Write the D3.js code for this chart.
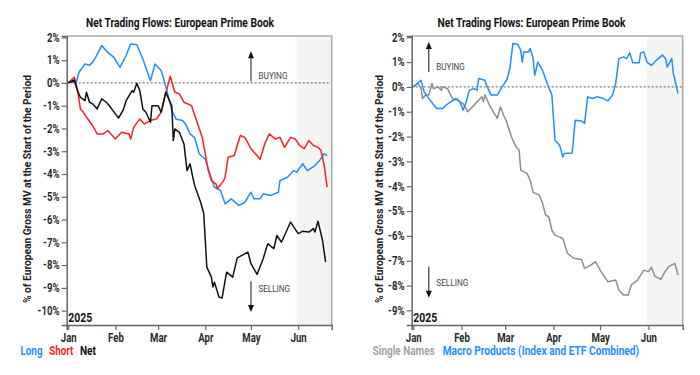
<!DOCTYPE html>
<html>
<head>
<meta charset="utf-8">
<script src="https://cdn.jsdelivr.net/npm/d3@7"></script>
<style>
body { margin: 0; background: #fff; }
text { font-family: Roboto, "Noto Sans", sans-serif; }
</style>
</head>
<body>
<svg id="chart" width="700" height="375"></svg>
<script>
// ---- data (percent of European gross MV at start of period) ----
var monthTicks = ["2025-01-01", "2025-02-01", "2025-03-01", "2025-04-01", "2025-05-01", "2025-06-01"];
var shadeStart = "2025-05-31";

var leftTicks = [2, 1, 0, -1, -2, -3, -4, -5, -6, -7, -8, -9, -10];
var rightTicks = [2, 1, 0, -1, -2, -3, -4, -5, -6, -7, -8, -9];

var longFlows = [
  ["2025-01-01", 0], ["2025-01-04", 0.05], ["2025-01-06", -0.05], ["2025-01-08", 0.46], ["2025-01-12", 0.83],
  ["2025-01-15", 0.78], ["2025-01-17", 0.9], ["2025-01-19", 1.12], ["2025-01-23", 1.64], ["2025-01-27", 1.34],
  ["2025-01-31", 1.12], ["2025-02-04", 0.68], ["2025-02-08", 1.2], ["2025-02-11", 1.71], ["2025-02-15", 1.68],
  ["2025-02-19", 1.05], ["2025-02-24", 0.1], ["2025-02-27", 0.83], ["2025-03-03", 0.54], ["2025-03-05", 0.1],
  ["2025-03-07", -0.41], ["2025-03-10", -1.21], ["2025-03-13", -1.6], ["2025-03-17", -1.65], ["2025-03-19", -1.8],
  ["2025-03-22", -2.24], ["2025-03-25", -2.4], ["2025-03-28", -3.11], ["2025-04-01", -3.35], ["2025-04-04", -3.99],
  ["2025-04-07", -4.58], ["2025-04-11", -4.72], ["2025-04-14", -5.31], ["2025-04-18", -5.09], ["2025-04-23", -5.38],
  ["2025-04-27", -5.24], ["2025-05-01", -4.8], ["2025-05-03", -5.09], ["2025-05-07", -5.09], ["2025-05-09", -4.87],
  ["2025-05-14", -4.94], ["2025-05-19", -4.8], ["2025-05-20", -4.29], ["2025-05-25", -4.14], ["2025-05-29", -3.85],
  ["2025-05-31", -3.92], ["2025-06-04", -3.55], ["2025-06-07", -3.85], ["2025-06-12", -3.63], ["2025-06-15", -3.41],
  ["2025-06-18", -3.11], ["2025-06-20", -3.19]
];

var shortFlows = [
  ["2025-01-01", 0], ["2025-01-05", 0.25], ["2025-01-07", -0.26], ["2025-01-09", -1.14], ["2025-01-11", -1.29],
  ["2025-01-13", -1.51], ["2025-01-17", -1.87], ["2025-01-20", -2.24], ["2025-01-24", -2.24], ["2025-01-27", -2.09],
  ["2025-02-01", -2.46], ["2025-02-05", -2.17], ["2025-02-10", -2.24], ["2025-02-11", -2.46], ["2025-02-13", -1.95],
  ["2025-02-17", -1.58], ["2025-02-20", -1.8], ["2025-02-24", -1.65], ["2025-02-28", -1.58], ["2025-03-03", -1.29],
  ["2025-03-06", -0.48], ["2025-03-09", 0.29], ["2025-03-12", -0.41], ["2025-03-15", -0.48], ["2025-03-18", -0.85],
  ["2025-03-23", -1.0], ["2025-03-24", -1.21], ["2025-03-27", -1.8], ["2025-03-30", -2.39], ["2025-04-03", -3.85],
  ["2025-04-05", -4.29], ["2025-04-08", -4.43], ["2025-04-09", -4.65], ["2025-04-13", -4.29], ["2025-04-14", -4.14],
  ["2025-04-16", -3.26], ["2025-04-20", -3.19], ["2025-04-24", -2.31], ["2025-04-27", -2.39], ["2025-05-01", -2.89],
  ["2025-05-07", -3.35], ["2025-05-10", -2.68], ["2025-05-13", -2.24], ["2025-05-17", -2.46], ["2025-05-20", -2.39],
  ["2025-05-23", -2.83], ["2025-05-27", -2.39], ["2025-05-30", -2.46], ["2025-06-02", -2.75], ["2025-06-05", -2.89],
  ["2025-06-08", -2.53], ["2025-06-11", -2.75], ["2025-06-14", -2.83], ["2025-06-16", -2.97], ["2025-06-18", -3.6],
  ["2025-06-20", -4.58]
];

var netFlows = [
  ["2025-01-01", 0], ["2025-01-05", 0.13], ["2025-01-07", -0.34], ["2025-01-09", -0.63], ["2025-01-12", -0.78],
  ["2025-01-13", -0.41], ["2025-01-15", -0.85], ["2025-01-17", -0.92], ["2025-01-20", -1.14], ["2025-01-23", -0.7],
  ["2025-01-26", -0.85], ["2025-01-28", -1.0], ["2025-02-01", -1.36], ["2025-02-03", -1.54], ["2025-02-06", -1.21],
  ["2025-02-08", -0.78], ["2025-02-12", -0.34], ["2025-02-13", -0.41], ["2025-02-15", -0.02], ["2025-02-17", -0.34],
  ["2025-02-19", -1.14], ["2025-02-21", -1.29], ["2025-02-24", -1.73], ["2025-02-25", -1.0], ["2025-03-01", -1.0],
  ["2025-03-03", -1.29], ["2025-03-06", -0.41], ["2025-03-08", -0.7], ["2025-03-10", -1.0], ["2025-03-11", -2.53],
  ["2025-03-12", -2.02], ["2025-03-15", -2.17], ["2025-03-18", -2.68], ["2025-03-20", -3.85], ["2025-03-22", -3.55],
  ["2025-03-24", -4.21], ["2025-03-25", -4.5], ["2025-03-29", -5.25], ["2025-03-31", -5.75], ["2025-04-02", -8.09],
  ["2025-04-05", -8.53], ["2025-04-06", -8.96], ["2025-04-07", -8.75], ["2025-04-10", -9.4], ["2025-04-12", -9.45],
  ["2025-04-15", -8.31], ["2025-04-19", -8.53], ["2025-04-22", -7.68], ["2025-04-25", -7.57], ["2025-04-29", -7.43],
  ["2025-05-01", -7.94], ["2025-05-05", -8.41], ["2025-05-09", -7.72], ["2025-05-12", -7.06], ["2025-05-16", -7.28],
  ["2025-05-18", -6.7], ["2025-05-21", -6.99], ["2025-05-23", -6.7], ["2025-05-27", -6.11], ["2025-06-01", -6.62],
  ["2025-06-04", -6.51], ["2025-06-08", -6.55], ["2025-06-11", -6.4], ["2025-06-12", -6.55], ["2025-06-14", -6.07],
  ["2025-06-17", -6.92], ["2025-06-19", -7.87]
];

var singleNames = [
  ["2025-01-01", 0], ["2025-01-04", 0.14], ["2025-01-06", -0.07], ["2025-01-07", -0.47], ["2025-01-09", -0.33],
  ["2025-01-11", -0.33], ["2025-01-13", 0.14], ["2025-01-14", -0.07], ["2025-01-17", 0], ["2025-01-19", -0.13],
  ["2025-01-20", 0], ["2025-01-23", -0.07], ["2025-01-25", -0.33], ["2025-01-27", -0.54], ["2025-01-29", -0.47],
  ["2025-01-31", -0.6], ["2025-02-02", -0.67], ["2025-02-05", -1.0], ["2025-02-09", -0.74], ["2025-02-11", -0.6],
  ["2025-02-14", -0.4], ["2025-02-15", -0.6], ["2025-02-16", -0.33], ["2025-02-19", -0.74], ["2025-02-22", -1.07],
  ["2025-02-24", -1.27], ["2025-02-26", -0.8], ["2025-02-28", -1.14], ["2025-03-02", -1.41], ["2025-03-05", -2.01],
  ["2025-03-08", -2.41], ["2025-03-10", -2.55], ["2025-03-11", -3.35], ["2025-03-15", -3.48], ["2025-03-17", -3.75],
  ["2025-03-19", -4.25], ["2025-03-23", -4.36], ["2025-03-25", -4.69], ["2025-03-27", -5.16], ["2025-03-29", -5.23],
  ["2025-03-31", -5.77], ["2025-04-02", -5.97], ["2025-04-07", -6.1], ["2025-04-10", -6.7], ["2025-04-14", -6.9],
  ["2025-04-19", -6.95], ["2025-04-21", -7.31], ["2025-04-25", -7.18], ["2025-04-28", -7.04], ["2025-05-01", -7.38],
  ["2025-05-06", -7.85], ["2025-05-11", -7.78], ["2025-05-13", -8.18], ["2025-05-16", -8.38], ["2025-05-19", -8.38],
  ["2025-05-21", -7.98], ["2025-05-25", -7.78], ["2025-05-29", -7.38], ["2025-06-01", -7.44], ["2025-06-03", -7.27],
  ["2025-06-05", -7.62], ["2025-06-09", -7.75], ["2025-06-11", -7.51], ["2025-06-14", -7.24], ["2025-06-18", -7.11],
  ["2025-06-20", -7.58]
];

var macroProducts = [
  ["2025-01-01", 0], ["2025-01-06", 0.27], ["2025-01-08", -0.2], ["2025-01-11", -0.47], ["2025-01-16", -0.87],
  ["2025-01-20", -0.87], ["2025-01-22", -0.74], ["2025-01-25", -0.6], ["2025-01-28", -0.47], ["2025-01-31", -0.6],
  ["2025-02-02", -0.94], ["2025-02-04", -0.6], ["2025-02-06", -0.13], ["2025-02-09", -0.07], ["2025-02-11", -0.13],
  ["2025-02-12", 0.34], ["2025-02-16", 0.27], ["2025-02-17", 0.07], ["2025-02-20", -0.33], ["2025-02-24", -0.33],
  ["2025-02-27", 0], ["2025-03-02", 0.27], ["2025-03-04", 0.74], ["2025-03-06", 1.75], ["2025-03-09", 1.72],
  ["2025-03-11", 1.48], ["2025-03-12", 1.0], ["2025-03-13", 1.41], ["2025-03-16", 1.41], ["2025-03-17", 1.55],
  ["2025-03-19", 1.14], ["2025-03-20", 0.47], ["2025-03-22", 1.0], ["2025-03-25", 0.67], ["2025-03-28", 0.14],
  ["2025-03-31", -0.33], ["2025-04-02", -2.14], ["2025-04-05", -2.35], ["2025-04-07", -2.82], ["2025-04-08", -2.68],
  ["2025-04-13", -2.66], ["2025-04-15", -1.34], ["2025-04-19", -1.37], ["2025-04-21", -1.47], ["2025-04-23", -0.4],
  ["2025-04-26", -0.47], ["2025-04-29", -0.4], ["2025-05-03", -0.47], ["2025-05-06", -0.56], ["2025-05-09", -0.33],
  ["2025-05-11", 0.14], ["2025-05-13", 1.14], ["2025-05-16", 1.21], ["2025-05-18", 1.14], ["2025-05-20", 1.37],
  ["2025-05-22", 0.97], ["2025-05-26", 0.97], ["2025-05-27", 1.37], ["2025-05-29", 1.41], ["2025-05-31", 1.0],
  ["2025-06-03", 0.87], ["2025-06-06", 1.07], ["2025-06-10", 1.28], ["2025-06-12", 1.14], ["2025-06-13", 0.8],
  ["2025-06-16", 1.14], ["2025-06-17", 0.54], ["2025-06-18", 0.27], ["2025-06-20", -0.27]
];

var parse = d3.timeParse("%Y-%m-%d");
var svg = d3.select("#chart");
var plotTop = 36, plotBottom = 325;
var BLUE = "#1f8fff", RED = "#ff1f1f", BLACK = "#111", GREY = "#8c8c8c";

function panel(opt) {
  var x = d3.scaleTime()
    .domain([parse("2024-12-31"), parse("2025-06-23")])
    .range([opt.x0, opt.x1]);
  var y = d3.scaleLinear().domain(opt.yDomain).range([plotBottom, plotTop]);
  var g = svg.append("g");

  // shaded recent period
  var sx = x(parse(shadeStart));
  g.append("rect")
    .attr("x", sx).attr("y", plotTop)
    .attr("width", opt.x1 - sx).attr("height", plotBottom - plotTop)
    .attr("fill", "#f3f5f2");

  // zero line
  g.append("line")
    .attr("x1", opt.x0).attr("x2", opt.x1)
    .attr("y1", y(0)).attr("y2", y(0))
    .attr("stroke", "#777").attr("stroke-width", 1.2)
    .attr("stroke-dasharray", "2,2");

  // frame
  g.append("path")
    .attr("d", "M" + opt.x0 + "," + plotTop + "H" + opt.x1 + "V" + plotBottom)
    .attr("fill", "none").attr("stroke", "#aaa").attr("stroke-width", 1.5);

  var yAxis = g.append("g")
    .attr("transform", "translate(" + opt.x0 + ",0)")
    .call(d3.axisLeft(y).tickValues(opt.yTicks).tickFormat(function(d) { return d + "%"; })
      .tickSize(5).tickPadding(4));
  var xAxis = g.append("g")
    .attr("transform", "translate(0," + plotBottom + ")")
    .call(d3.axisBottom(x).tickValues(monthTicks.map(parse)).tickFormat(d3.timeFormat("%b"))
      .tickSize(5).tickPadding(3));

  [yAxis, xAxis].forEach(function(a) {
    a.select(".domain").attr("stroke", "#666").attr("stroke-width", 1.5);
    a.selectAll(".tick line").attr("stroke", "#666").attr("stroke-width", 1.2);
    a.selectAll(".tick text")
      .attr("fill", "#2a2a2a")
      .attr("font-size", 12)
      .attr("font-weight", "bold")
      .attr("transform", "scale(0.8,1)");
  });

  // series
  var line = d3.line()
    .x(function(d) { return x(parse(d[0])); })
    .y(function(d) { return y(d[1]); });
  opt.series.forEach(function(s) {
    g.append("path")
      .datum(s.data)
      .attr("d", line)
      .attr("fill", "none")
      .attr("stroke", s.color)
      .attr("stroke-width", 1.5)
      .attr("stroke-linejoin", "round");
  });

  // buying / selling arrows
  opt.arrows.forEach(function(a) {
    var ax = x(parse(a.date));
    var y1 = y(a.from), y2 = y(a.to);
    var dir = y2 < y1 ? 1 : -1;
    g.append("line")
      .attr("x1", ax).attr("x2", ax)
      .attr("y1", y1).attr("y2", y2 + dir * 5)
      .attr("stroke", "#111").attr("stroke-width", 1);
    g.append("path")
      .attr("d", "M" + (ax - 3) + "," + (y2 + dir * 7) + "L" + ax + "," + y2 + "L" + (ax + 3) + "," + (y2 + dir * 7) + "Z")
      .attr("fill", "#111");
    g.append("text")
      .attr("x", ax + 7.5).attr("y", y(a.labelAt))
      .attr("font-size", 8.5).attr("fill", "#444")
      .attr("textLength", a.len).attr("lengthAdjust", "spacingAndGlyphs")
      .text(a.label);
  });

  g.append("text")
    .attr("x", opt.x0 + 1.5).attr("y", plotBottom - 3.5)
    .attr("font-size", 12).attr("font-weight", "bold").attr("fill", "#111")
    .attr("textLength", 24).attr("lengthAdjust", "spacingAndGlyphs")
    .text("2025");

  g.append("text")
    .attr("x", opt.titleX).attr("y", 27)
    .attr("text-anchor", "middle")
    .attr("font-size", 12).attr("font-weight", "bold").attr("fill", "#111")
    .attr("textLength", 188).attr("lengthAdjust", "spacingAndGlyphs")
    .text("Net Trading Flows: European Prime Book");

  g.append("text")
    .attr("transform", "translate(" + opt.labelX + ",189) rotate(-90)")
    .attr("text-anchor", "middle")
    .attr("font-size", 11.5).attr("font-weight", "bold").attr("fill", "#222")
    .attr("textLength", 228).attr("lengthAdjust", "spacingAndGlyphs")
    .text("% of European Gross MV at the Start of the Period");

  opt.legend.forEach(function(l) {
    g.append("text")
      .attr("x", l.x).attr("y", 355)
      .attr("font-size", 12).attr("font-weight", "bold").attr("fill", l.color)
      .attr("textLength", l.len).attr("lengthAdjust", "spacingAndGlyphs")
      .text(l.text);
  });
}

panel({
  x0: 66.7, x1: 331.7, yDomain: [-10.63, 2.06], yTicks: leftTicks,
  titleX: 180, labelX: 31,
  series: [
    { data: longFlows, color: BLUE },
    { data: shortFlows, color: RED },
    { data: netFlows, color: BLACK }
  ],
  arrows: [
    { date: "2025-05-01", from: 0.07, to: 1.39, label: "BUYING", labelAt: 0.15, len: 29 },
    { date: "2025-05-01", from: -8.71, to: -10.06, label: "SELLING", labelAt: -9.18, len: 31.5 }
  ],
  legend: [
    { text: "Long", x: 20.5, color: BLUE, len: 22 },
    { text: "Short", x: 49.3, color: RED, len: 24 },
    { text: "Net", x: 80, color: BLACK, len: 16 }
  ]
});

panel({
  x0: 411.7, x1: 682.7, yDomain: [-9.59, 2.05], yTicks: rightTicks,
  titleX: 531.5, labelX: 383,
  series: [
    { data: singleNames, color: GREY },
    { data: macroProducts, color: BLUE }
  ],
  arrows: [
    { date: "2025-01-11", from: 0.6, to: 1.81, label: "BUYING", labelAt: 0.67, len: 28.5 },
    { date: "2025-01-11", from: -7.24, to: -8.49, label: "SELLING", labelAt: -8.0, len: 32 }
  ],
  legend: [
    { text: "Single Names", x: 372.7, color: "#a3a3a3", len: 62 },
    { text: "Macro Products (Index and ETF Combined)", x: 442.7, color: BLUE, len: 196.5 }
  ]
});
</script>
</body>
</html>
